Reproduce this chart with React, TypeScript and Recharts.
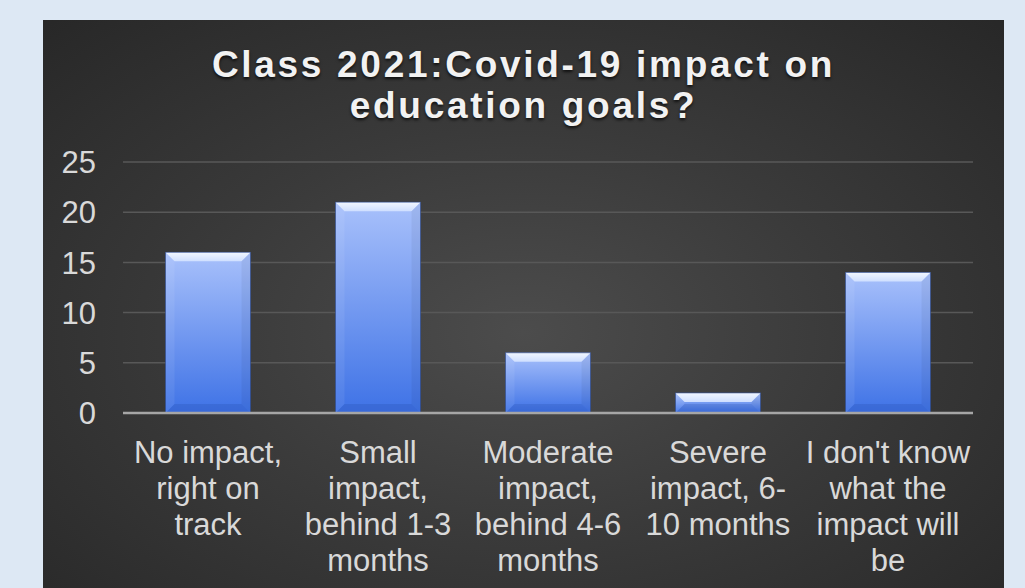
import React from "react";
import { Bar, BarChart, CartesianGrid, XAxis, YAxis } from "recharts";

// survey answers, class of 2021
const categories = [
  "No impact, right on track",
  "Small impact, behind 1-3 months",
  "Moderate impact, behind 4-6 months",
  "Severe impact, 6-10 months",
  "I don't know what the impact will be",
];
const categoryLines = [
  ["No impact,", "right on", "track"],
  ["Small", "impact,", "behind 1-3", "months"],
  ["Moderate", "impact,", "behind 4-6", "months"],
  ["Severe", "impact, 6-", "10 months"],
  ["I don't know", "what the", "impact will", "be"],
];
const responses = [16, 21, 6, 2, 14];
const yTicks = [0, 5, 10, 15, 20, 25];

const data = categories.map((name, i) => ({ name, responses: responses[i] }));

const FONT = '"Liberation Sans", Arial, sans-serif';

const XTick = (props: any) => {
  const { x, y, payload } = props;
  const lines = categoryLines[payload.index] || [payload.value];
  return (
    <text
      x={x}
      y={y + 50}
      textAnchor="middle"
      fill="#d9d9d9"
      fontSize={31}
      fontFamily={FONT}
    >
      {lines.map((l, i) => (
        <tspan key={i} x={x} dy={i === 0 ? 0 : 36}>
          {l}
        </tspan>
      ))}
    </text>
  );
};

const YTick = (props: any) => {
  const { y, payload } = props;
  return (
    <text
      x={53}
      y={y}
      dy="0.36em"
      textAnchor="end"
      fill="#d9d9d9"
      fontSize={31}
      fontFamily={FONT}
    >
      {payload.value}
    </text>
  );
};

const BevelBar = (props: any) => {
  const { x, y, width: w, height: h } = props;
  if (!h || h <= 0) return null;
  const b = Math.min(9, h / 2, w / 2);
  return (
    <g>
      <rect x={x} y={y} width={w} height={h} fill="url(#barFill)" />
      <polygon
        points={`${x},${y} ${x + w},${y} ${x + w - b},${y + b} ${x + b},${y + b}`}
        fill="url(#bevelTop)"
      />
      <polygon
        points={`${x},${y} ${x + b},${y + b} ${x + b},${y + h - b} ${x},${y + h}`}
        fill="#ffffff"
        fillOpacity={0.07}
      />
      <polygon
        points={`${x + w},${y} ${x + w - b},${y + b} ${x + w - b},${y + h - b} ${x + w},${y + h}`}
        fill="#000000"
        fillOpacity={0.05}
      />
      <polygon
        points={`${x},${y + h} ${x + b},${y + h - b} ${x + w - b},${y + h - b} ${x + w},${y + h}`}
        fill="#1d3f9a"
        fillOpacity={0.2}
      />
      <rect
        x={x}
        y={y}
        width={w}
        height={h}
        fill="none"
        stroke="#2c4a8f"
        strokeOpacity={0.6}
        strokeWidth={1}
      />
    </g>
  );
};

export default function App() {
  return (
    <div
      style={{
        position: "absolute",
        left: 0,
        top: 0,
        width: 1025,
        height: 588,
        background: "#dde8f4",
        overflow: "hidden",
      }}
    >
      <div
        style={{
          position: "absolute",
          left: 43,
          top: 20,
          width: 961,
          height: 568,
          background:
            "radial-gradient(ellipse 75% 80% at 50% 55%, #4c4c4c 0%, #3a3a3a 45%, #262626 100%)",
        }}
      >
        <div
          style={{
            position: "absolute",
            left: 0,
            top: 24,
            width: 961,
            textAlign: "center",
            color: "#f2f2f2",
            fontFamily: FONT,
            fontWeight: "bold",
            fontSize: 37,
            lineHeight: "41px",
            letterSpacing: 2.7,
            textShadow: "0 2px 3px rgba(0,0,0,0.7)",
          }}
        >
          Class 2021:Covid-19 impact on
          <br />
          education goals?
        </div>
        <BarChart
          width={961}
          height={568}
          data={data}
          margin={{ top: 142, right: 31, left: 0, bottom: 0 }}
          barCategoryGap="25%"
          style={{ position: "absolute", left: 0, top: 0 }}
        >
          <defs>
            <linearGradient id="barFill" x1="0" y1="0" x2="0" y2="1">
              <stop offset="0%" stopColor="#a9c1fb" />
              <stop offset="100%" stopColor="#3e72e6" />
            </linearGradient>
            <linearGradient id="bevelTop" x1="0" y1="0" x2="0" y2="1">
              <stop offset="0%" stopColor="#f2f7ff" />
              <stop offset="100%" stopColor="#cfdfff" />
            </linearGradient>
          </defs>
          <CartesianGrid
            vertical={false}
            stroke="#585858"
            strokeWidth={1.5}
          />
          <XAxis
            dataKey="name"
            height={175}
            interval={0}
            tickLine={false}
            tickSize={0}
            tickMargin={0}
            axisLine={{ stroke: "#a6a6a6", strokeWidth: 2.5 }}
            tick={<XTick />}
          />
          <YAxis
            width={80}
            domain={[0, 25]}
            ticks={yTicks}
            axisLine={false}
            tickLine={false}
            tickSize={0}
            tick={<YTick />}
          />
          <Bar
            dataKey="responses"
            shape={<BevelBar />}
            isAnimationActive={false}
          />
        </BarChart>
      </div>
    </div>
  );
}
